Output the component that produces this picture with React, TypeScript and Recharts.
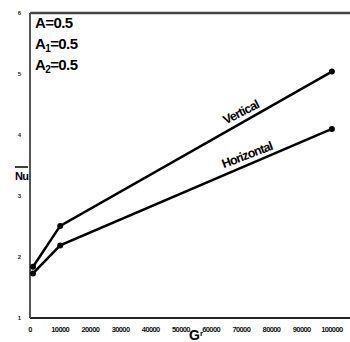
import React from 'react';
import { LineChart, Line, XAxis, YAxis, ReferenceLine, ReferenceDot } from 'recharts';

const grValues = [1000, 10000, 100000];
const verticalNu = [1.84, 2.51, 5.04];
const horizontalNu = [1.73, 2.19, 4.10];
const xTicks = [0, 10000, 20000, 30000, 40000, 50000, 60000, 70000, 80000, 90000, 100000];
const yTicks = [1, 2, 3, 4, 5, 6];
const params = [
  { name: 'A', sub: '', value: '0.5' },
  { name: 'A', sub: '1', value: '0.5' },
  { name: 'A', sub: '2', value: '0.5' },
];
const lineLabels = [
  { text: 'Vertical', x: 70000, y: 4.36, angle: -27 },
  { text: 'Horizontal', x: 72000, y: 3.66, angle: -21 },
];

const data = grValues.map((gr, i) => ({ gr, vertical: verticalNu[i], horizontal: horizontalNu[i] }));

const FONT = '"Liberation Sans", Arial, sans-serif';
const NARROW = '"Liberation Sans Narrow", "Liberation Sans", Arial, sans-serif';

const makeLabelShape = (text: string, angle: number) => (props: any) => {
  const { cx, cy } = props;
  return (
    <text
      x={cx}
      y={cy}
      transform={`rotate(${angle} ${cx} ${cy})`}
      textAnchor="middle"
      dominantBaseline="middle"
      fontFamily={FONT}
      fontWeight="bold"
      fontSize={12.5}
      letterSpacing={-0.8}
      fill="#000"
    >
      {text}
    </text>
  );
};

export default function App() {
  return (
    <div style={{ position: 'absolute', left: 0, top: 0, width: 350, height: 342, background: '#fff' }}>
      <LineChart width={350} height={342} data={data} margin={{ top: 13, right: 0, bottom: 0, left: 0 }}>
        <XAxis
          dataKey="gr"
          type="number"
          domain={[0, 106000]}
          ticks={xTicks}
          allowDataOverflow
          height={24}
          tickLine={false}
          tickMargin={3}
          axisLine={{ stroke: '#222', strokeWidth: 2 }}
          tick={{ fontSize: 7.5, fontFamily: NARROW, fontWeight: 'bold', fill: '#111', letterSpacing: -0.6 }}
          interval={0}
        />
        <YAxis
          type="number"
          domain={[1, 6]}
          ticks={yTicks}
          width={30}
          tickLine={false}
          tickMargin={3}
          axisLine={{ stroke: '#555', strokeWidth: 2 }}
          tick={{ fontSize: 6, fontFamily: FONT, fontWeight: 'bold', fill: '#222' }}
          interval={0}
        />
        <ReferenceLine y={6} stroke="#444" strokeWidth={2.5} />
        <Line
          type="linear"
          dataKey="vertical"
          stroke="#000"
          strokeWidth={2.5}
          dot={{ r: 3, fill: '#000', stroke: '#000', strokeWidth: 0 }}
          isAnimationActive={false}
        />
        <Line
          type="linear"
          dataKey="horizontal"
          stroke="#000"
          strokeWidth={2.5}
          dot={{ r: 3, fill: '#000', stroke: '#000', strokeWidth: 0 }}
          isAnimationActive={false}
        />
        {lineLabels.map((l) => (
          <ReferenceDot key={l.text} x={l.x} y={l.y} r={0} shape={makeLabelShape(l.text, l.angle)} />
        ))}
      </LineChart>
      <svg width={350} height={342} style={{ position: 'absolute', left: 0, top: 0, pointerEvents: 'none' }}>
        {params.map((p, i) => (
          <text
            key={i}
            x={35}
            y={28 + i * 21}
            fontFamily={FONT}
            fontWeight="bold"
            fontSize={15}
            letterSpacing={-0.6}
            fill="#000"
          >
            {p.name}
            {p.sub ? (
              <tspan fontSize={10} dy={3}>{p.sub}</tspan>
            ) : null}
            {p.sub ? <tspan dy={-3}>{'=' + p.value}</tspan> : '=' + p.value}
          </text>
        ))}
        <line x1={15} y1={167} x2={28} y2={167} stroke="#000" strokeWidth={1.5} />
        <text x={15} y={180} fontFamily={FONT} fontWeight="bold" fontSize={11} letterSpacing={-0.8} fill="#000">
          Nu
        </text>
        <text x={189} y={340} fontFamily={FONT} fontWeight="bold" fontSize={14} fill="#000">
          G<tspan fontSize={8} dy={-4}>r</tspan>
        </text>
      </svg>
    </div>
  );
}
